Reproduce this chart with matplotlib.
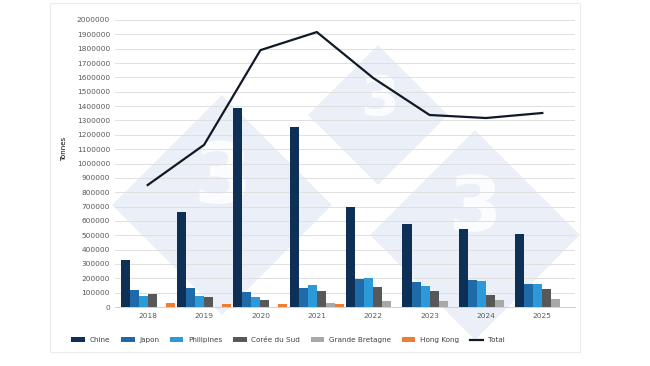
import numpy as np
import matplotlib
matplotlib.use("Agg")
from matplotlib import pyplot as plt
from matplotlib.patches import Polygon, Rectangle

years = ["2018", "2019", "2020", "2021", "2022", "2023", "2024", "2025"]
series = ["Chine", "Japon", "Philipines", "Corée du Sud", "Grande Bretagne", "Hong Kong"]
chine = [330000, 662000, 1387000, 1254000, 699000, 578000, 543000, 509000]
japon = [118000, 130000, 102000, 135000, 195000, 174000, 188000, 160000]
philippines = [79000, 77000, 68000, 153000, 202000, 146000, 181000, 160000]
coree = [90000, 68000, 49000, 111000, 139000, 114000, 84000, 128000]
grande_bretagne = [0, 0, 0, 30000, 42000, 42000, 49000, 56000]
hong_kong = [30000, 21000, 21000, 21000, 0, 0, 0, 0]
total = [850000, 1130000, 1790000, 1916000, 1596000, 1338000, 1317000, 1352000]

colors = ["#0e2f56", "#1f6aa8", "#2c9ad9", "#585858", "#a8a8a8", "#ed7d31"]

fig = plt.figure(figsize=(6.5, 3.66), dpi=100)

# faint outer border
fig.patches.append(Rectangle((50 / 650, 1 - 352 / 366), 530 / 650, 349 / 366,
                             transform=fig.transFigure, fill=False,
                             edgecolor="#ececec", linewidth=0.8, zorder=-2))

# pale watermark diamonds
def diamond(cx, cy, r):
    pts = [(cx, cy - r), (cx + r, cy), (cx, cy + r), (cx - r, cy)]
    pts = [(x / 650, 1 - y / 366) for x, y in pts]
    fig.patches.append(Polygon(pts, closed=True, transform=fig.transFigure,
                               facecolor="#ebf0f8", edgecolor="none", zorder=-1))

diamond(222, 205, 110)
diamond(378, 115, 70)
diamond(475, 235, 105)
for x, y, s in [(222, 180, 60), (380, 100, 40), (475, 210, 55)]:
    fig.text(x / 650, 1 - y / 366, "3", color="#fbfcfe", fontsize=s,
             fontweight="bold", ha="center", va="center", zorder=-0.5)

ax = fig.add_axes([115 / 650, 1 - 307 / 366, 460 / 650, 287 / 366])
ax.patch.set_alpha(0)

x = np.arange(len(years))
w = 0.16
data = [chine, japon, philippines, coree, grande_bretagne, hong_kong]
handles = []
for i, (name, vals) in enumerate(zip(series, data)):
    handles.append(ax.bar(x + (i - 2.5) * w, vals, w, color=colors[i], label=name, zorder=3))
line, = ax.plot(x, total, color="#111827", linewidth=1.6, label="Total", zorder=4)
handles.append(line)

ax.set_xlim(-0.58, len(years) - 0.42)
ax.set_ylim(0, 2000000)
ax.set_yticks(np.arange(0, 2000001, 100000))
ax.yaxis.set_major_formatter(matplotlib.ticker.FuncFormatter(lambda v, p: f"{int(v)}"))
ax.set_xticks(x)
ax.set_xticklabels(years)
ax.tick_params(axis="both", length=0, labelsize=5.3, labelcolor="#595959")
ax.tick_params(axis="x", pad=4)
ax.grid(axis="y", color="#e0e0e0", linewidth=0.7, zorder=0)
for s in ["top", "right", "left"]:
    ax.spines[s].set_visible(False)
ax.spines["bottom"].set_color("#d0d0d0")
ax.spines["bottom"].set_linewidth(0.7)

ax.set_ylabel("Tonnes", fontsize=5, color="#000000")
ax.yaxis.set_label_coords(-0.105, 0.55)

fig.legend(handles=handles, labels=series + ["Total"], loc="center",
           bbox_to_anchor=(288 / 650, 1 - 340 / 366), ncol=7,
           frameon=False, fontsize=5.2, handlelength=1.9, handleheight=0.8,
           columnspacing=1.5, handletextpad=0.6, labelcolor="#404040")

fig.savefig("out.png", dpi=100)
